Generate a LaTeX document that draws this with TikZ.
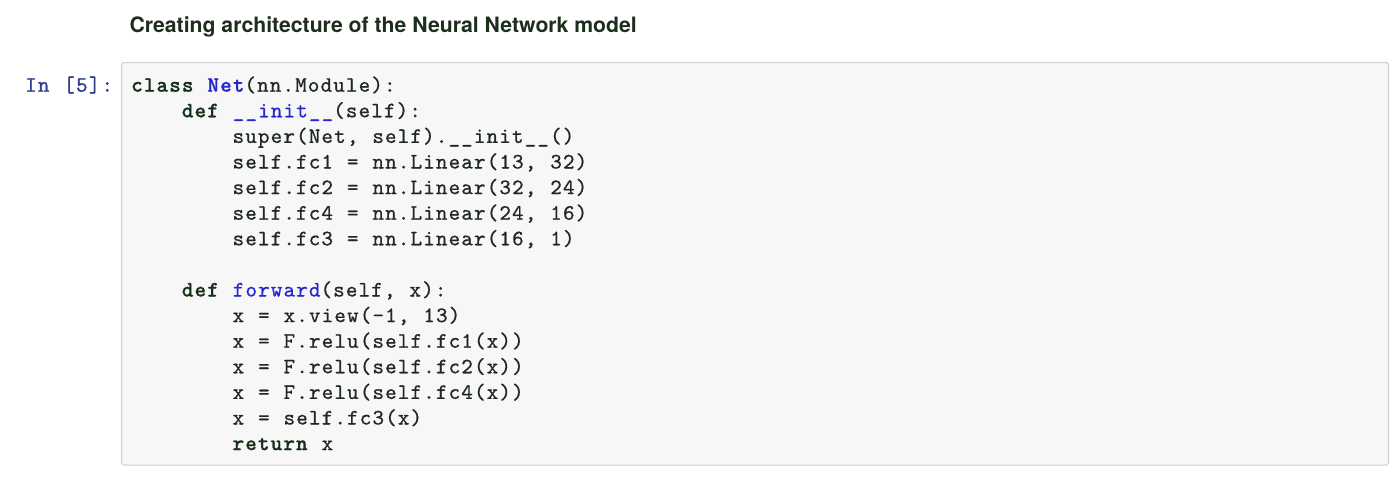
\documentclass[tikz,border=0pt]{standalone}
\usepackage{fontspec}
\usepackage{tikz}
\newfontfamily\codefont{lmmono10-regular}[Extension=.otf, BoldFont=lmmonolt10-bold, LetterSpace=5.2, WordSpace={1.10,0,0}, FakeBold=0.7]
\newfontfamily\titlefont{TeX Gyre Heros}
\definecolor{titletext}{HTML}{1D2E1D}
\definecolor{codetext}{HTML}{1F291F}
\definecolor{codekw}{HTML}{17301A}
\definecolor{codename}{HTML}{2626D2}
\definecolor{promptblue}{HTML}{2E3A8C}
\definecolor{cellfill}{HTML}{F7F7F7}
\definecolor{cellline}{HTML}{CFCFCF}
\newcommand{\pykw}[1]{\textbf{\color{codekw}#1}}
\newcommand{\pyclass}[1]{\textbf{\color{codename}#1}}
\newcommand{\pyfunc}[1]{{\color{codename}#1}}
\tikzset{
    codeline/.style={anchor=base west, inner sep=0pt, text=codetext,
        font=\codefont\fontsize{22}{26}\selectfont},
    cell/.style={draw=cellline, fill=cellfill, line width=1pt, rounded corners=2.5pt}
}

\begin{document}
\begin{tikzpicture}[x=1pt, y=-1pt]
    \useasboundingbox (0, 0) rectangle (1400, 480);
    \draw[cell] (121.5, 62.5) rectangle (1388.5, 465);

    \node[anchor=base west, inner sep=0pt, text=titletext, font=\titlefont\bfseries\fontsize{21.2}{25}\selectfont]
        (title) at (129.3, 32.3) {Creating architecture of the Neural Network model};
    \node[codeline, text=promptblue] (prompt) at (25, 91.7) {In [5]:};

    \node[codeline] (classdef) at (131, 91.7) {\pykw{class} \pyclass{Net}(nn.Module):};
    \node[codeline] (initdef) at (181.7, 117.3) {\pykw{def} \pyfunc{\_\_init\_\_}(self):};
    \node[codeline] (super) at (232.4, 142.9) {super(Net, self).\_\_init\_\_()};
    \node[codeline] (fcone) at (232.4, 168.5) {self.fc1 = nn.Linear(13, 32)};
    \node[codeline] (fctwo) at (232.4, 194.1) {self.fc2 = nn.Linear(32, 24)};
    \node[codeline] (fcfour) at (232.4, 219.7) {self.fc4 = nn.Linear(24, 16)};
    \node[codeline] (fcthree) at (232.4, 245.3) {self.fc3 = nn.Linear(16, 1)};

    \node[codeline] (fwddef) at (181.7, 296.5) {\pykw{def} \pyfunc{forward}(self, x):};
    \node[codeline] (view) at (232.4, 322.1) {x = x.view(-1, 13)};
    \node[codeline] (reluone) at (232.4, 347.7) {x = F.relu(self.fc1(x))};
    \node[codeline] (relutwo) at (232.4, 373.3) {x = F.relu(self.fc2(x))};
    \node[codeline] (relufour) at (232.4, 398.9) {x = F.relu(self.fc4(x))};
    \node[codeline] (outthree) at (232.4, 424.5) {x = self.fc3(x)};
    \node[codeline] (ret) at (232.4, 450.1) {\pykw{return} x};
\end{tikzpicture}
\end{document}
